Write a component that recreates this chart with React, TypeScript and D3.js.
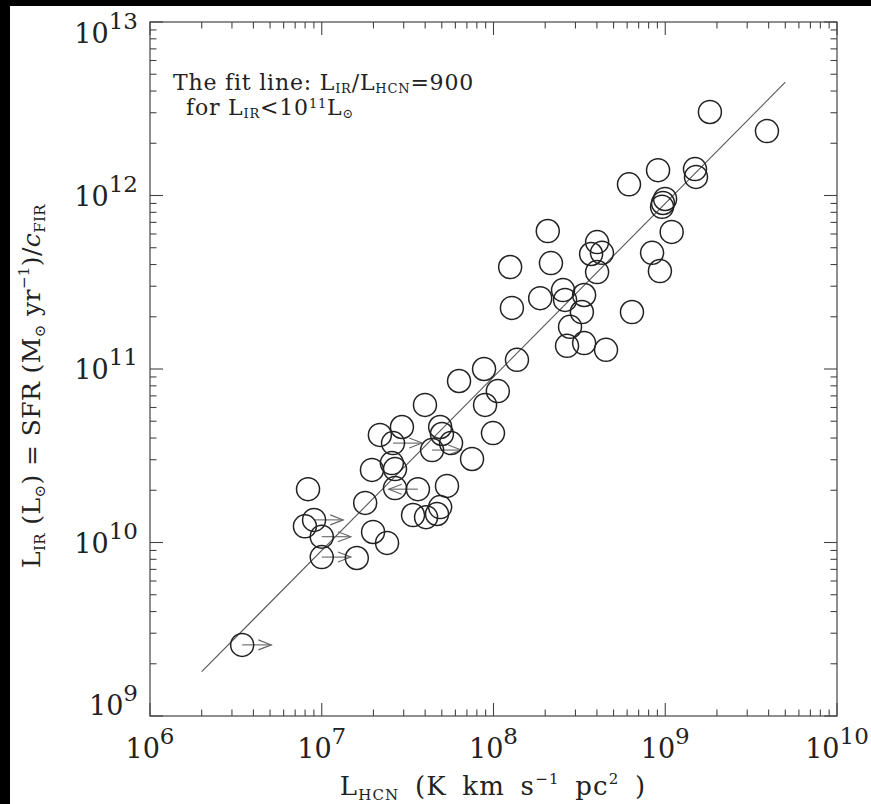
import React from 'react';
import * as d3 from 'd3';

// L_HCN (K km s^-1 pc^2) and L_IR (L_sun)
const lhcn = [
  3.91e9, 1.82e9, 1.49e9, 1.51e9, 9.08e8, 6.15e8, 9.7e8, 9.98e8, 9.58e8, 1.09e9,
  2.07e8, 4.01e8, 3.7e8, 4.28e8, 8.38e8, 2.16e8, 1.25e8, 4.01e8, 9.31e8, 1.87e8,
  2.54e8, 2.61e8, 3.37e8, 1.28e8, 3.27e8, 6.4e8, 2.79e8, 2.68e8, 3.37e8, 4.52e8,
  1.37e8, 8.81e7, 6.3e7, 1.06e8, 8.93e7, 3.99e7, 4.89e7, 5.01e7, 5.66e7, 9.93e7,
  4.39e7, 2.18e7, 2.93e7, 2.6e7, 7.5e7, 1.96e7, 2.56e7, 2.67e7, 2.67e7, 3.63e7,
  5.36e7, 8.32e6, 1.79e7, 3.4e7, 4.05e7, 4.69e7, 4.89e7, 9.02e6, 7.98e6, 1.0e7,
  1.99e7, 2.4e7, 1.0e7, 1.6e7, 3.44e6,
];
const lir = [
  2.35e12, 3.03e12, 1.42e12, 1.28e12, 1.4e12, 1.16e12, 9.05e11, 9.55e11, 8.6e11, 6.17e11,
  6.24e11, 5.39e11, 4.6e11, 4.67e11, 4.67e11, 4.08e11, 3.87e11, 3.62e11, 3.67e11, 2.56e11,
  2.85e11, 2.5e11, 2.67e11, 2.25e11, 2.13e11, 2.13e11, 1.75e11, 1.36e11, 1.41e11, 1.29e11,
  1.13e11, 1.0e11, 8.53e10, 7.46e10, 6.21e10, 6.21e10, 4.63e10, 4.22e10, 3.74e10, 4.27e10,
  3.41e10, 4.17e10, 4.63e10, 3.74e10, 3.03e10, 2.62e10, 2.87e10, 2.65e10, 2.06e10, 2.03e10,
  2.12e10, 2.03e10, 1.69e10, 1.44e10, 1.4e10, 1.46e10, 1.6e10, 1.35e10, 1.24e10, 1.08e10,
  1.15e10, 9.94e9, 8.24e9, 8.14e9, 2.57e9,
];
// 1 = lower limit in L_HCN (arrow right), -1 = upper limit (arrow left)
const limits = [
  0, 0, 0, 0, 0, 0, 0, 0, 0, 0,
  0, 0, 0, 0, 0, 0, 0, 0, 0, 0,
  0, 0, 0, 0, 0, 0, 0, 0, 0, 0,
  0, 0, 0, 0, 0, 0, 0, 0, 0, 0,
  1, 0, 0, 1, 0, 0, 0, 0, 0, -1,
  0, 0, 0, 0, 0, 0, 0, 1, 0, 1,
  0, 0, 1, 0, 1,
];

const xDecades = [6, 7, 8, 9, 10];
const yDecades = [9, 10, 11, 12, 13];
const fitRatio = 900;
const fitRange = [2e6, 5e9];

const W = 871;
const H = 804;
const left = 150, right = 837, top = 22, bottom = 716;
const serif = "'DejaVu Serif', 'Liberation Serif', serif";
const ink = '#222';

const minors = (decs: number[]) => {
  const out: number[] = [];
  decs.slice(0, -1).forEach(d => {
    for (let k = 2; k <= 9; k++) out.push(k * Math.pow(10, d));
  });
  return out;
};

const App = () => {
  const x = d3.scaleLog().domain([1e6, 1e10]).range([left, right]);
  const y = d3.scaleLog().domain([1e9, 1e13]).range([bottom, top]);
  const r = 11.5;
  const arrowDex = 0.17;

  const majLen = 13, minLen = 6.5;

  return (
    <svg width={W} height={H} style={{ position: 'absolute', left: 0, top: 0, background: '#fff' }}
      fontFamily={serif}>
      <rect x={0} y={0} width={W} height={H} fill="#fff" />
      <rect x={0} y={0} width={10} height={H} fill="#000" />
      <rect x={0} y={0} width={W} height={6} fill="#000" />

      {/* frame */}
      <rect x={left} y={top} width={right - left} height={bottom - top} fill="none" stroke="#444" strokeWidth={1.2} />

      {/* ticks on all four sides, pointing inward */}
      <g stroke="#444" strokeWidth={1.1}>
        {xDecades.map(d => {
          const px = x(Math.pow(10, d));
          return (
            <g key={'xm' + d}>
              <line x1={px} x2={px} y1={bottom} y2={bottom - majLen} />
              <line x1={px} x2={px} y1={top} y2={top + majLen} />
            </g>
          );
        })}
        {minors(xDecades).map((v, i) => (
          <g key={'xn' + i}>
            <line x1={x(v)} x2={x(v)} y1={bottom} y2={bottom - minLen} />
            <line x1={x(v)} x2={x(v)} y1={top} y2={top + minLen} />
          </g>
        ))}
        {yDecades.map(d => {
          const py = y(Math.pow(10, d));
          return (
            <g key={'ym' + d}>
              <line x1={left} x2={left + majLen} y1={py} y2={py} />
              <line x1={right} x2={right - majLen} y1={py} y2={py} />
            </g>
          );
        })}
        {minors(yDecades).map((v, i) => (
          <g key={'yn' + i}>
            <line x1={left} x2={left + minLen} y1={y(v)} y2={y(v)} />
            <line x1={right} x2={right - minLen} y1={y(v)} y2={y(v)} />
          </g>
        ))}
      </g>

      {/* tick labels */}
      <g fill={ink} fontSize={27}>
        {xDecades.map(d => (
          <text key={'xl' + d} x={x(Math.pow(10, d))} y={bottom + 42} textAnchor="middle">
            10<tspan fontSize={23} dy={-14}>{d}</tspan>
          </text>
        ))}
        {yDecades.map(d => {
          const py = y(Math.pow(10, d));
          const base = Math.max(top + 21, Math.min(py + 10, bottom - 1));
          return (
            <text key={'yl' + d} x={left - 12} y={base} textAnchor="end">
              10<tspan fontSize={23} dy={-14}>{d}</tspan>
            </text>
          );
        })}
      </g>

      {/* fit line */}
      <line x1={x(fitRange[0])} y1={y(fitRange[0] * fitRatio)} x2={x(fitRange[1])} y2={y(fitRange[1] * fitRatio)}
        stroke="#555" strokeWidth={1.1} />

      {/* limit arrows */}
      <g stroke="#666" strokeWidth={1.1} fill="none">
        {lhcn.map((v, i) => {
          if (!limits[i]) return null;
          const cx = x(v), cy = y(lir[i]);
          const tx = x(v * Math.pow(10, arrowDex * limits[i]));
          const dir = limits[i];
          return (
            <g key={'a' + i}>
              <line x1={cx} y1={cy} x2={tx} y2={cy} />
              <polyline points={`${tx - dir * 13},${cy - 5} ${tx},${cy} ${tx - dir * 13},${cy + 5}`} />
            </g>
          );
        })}
      </g>

      {/* points */}
      <g stroke={ink} strokeWidth={1.5} fill="none">
        {lhcn.map((v, i) => (
          <circle key={'c' + i} cx={x(v)} cy={y(lir[i])} r={r} />
        ))}
      </g>

      {/* annotation */}
      <g fill={ink} fontSize={22} letterSpacing={0.8}>
        <text x={173} y={90}>
          The fit line: L<tspan fontSize={13} dy={3}>IR</tspan><tspan dy={-3}>/L</tspan>
          <tspan fontSize={13} dy={3}>HCN</tspan><tspan dy={-3}>=900</tspan>
        </text>
        <text x={186} y={115}>
          for L<tspan fontSize={13} dy={3}>IR</tspan><tspan dy={-3}>&lt;10</tspan>
          <tspan fontSize={13} dy={-7}>11</tspan><tspan dy={7}>L</tspan>
          <tspan fontSize={13} dy={3}>⊙</tspan>
        </text>
      </g>

      {/* axis titles */}
      <text x={493} y={795} textAnchor="middle" fill={ink} fontSize={26} letterSpacing={1.2} wordSpacing={6}>
        L<tspan fontSize={15} dy={5}>HCN</tspan><tspan dy={-5}> (K km s</tspan>
        <tspan fontSize={15} dy={-11}>−1</tspan><tspan dy={11}> pc</tspan>
        <tspan fontSize={15} dy={-11}>2</tspan><tspan dy={11}> )</tspan>
      </text>
      <text transform={`translate(40,386) rotate(-90)`} textAnchor="middle" fill={ink} fontSize={25} letterSpacing={0.4}>
        L<tspan fontSize={15} dy={5}>IR</tspan><tspan dy={-5}> (L</tspan>
        <tspan fontSize={15} dy={5}>⊙</tspan><tspan dy={-5}>) = SFR (M</tspan>
        <tspan fontSize={15} dy={5}>⊙</tspan><tspan dy={-5}> yr</tspan>
        <tspan fontSize={15} dy={-11}>−1</tspan><tspan dy={11}>)/</tspan>
        <tspan fontStyle="italic">c</tspan><tspan fontSize={15} dy={5}>FIR</tspan>
      </text>
    </svg>
  );
};

export default App;
